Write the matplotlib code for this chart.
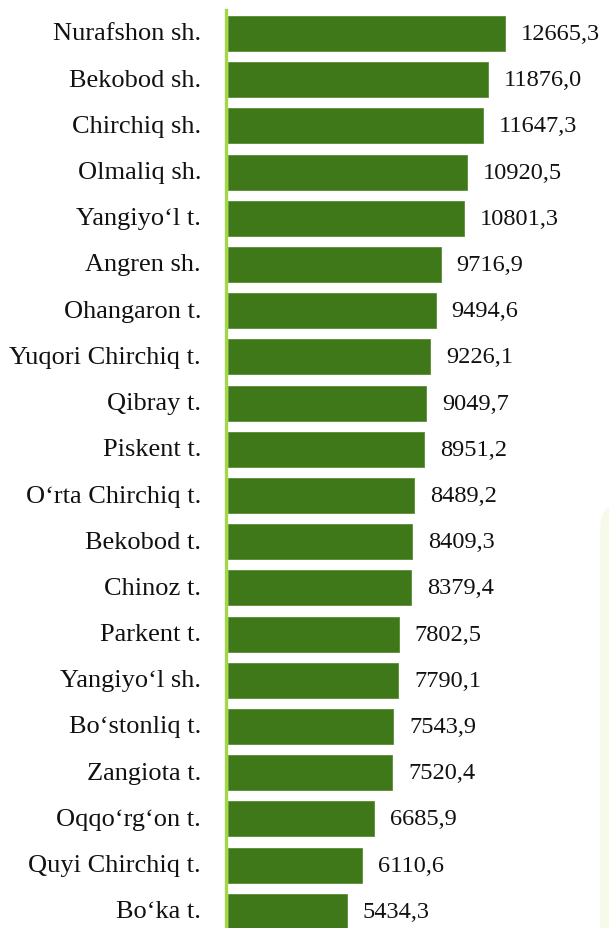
import matplotlib.pyplot as plt
from matplotlib.patches import FancyBboxPatch

districts = ["Nurafshon sh.", "Bekobod sh.", "Chirchiq sh.", "Olmaliq sh.", "Yangiyo‘l t.",
             "Angren sh.", "Ohangaron t.", "Yuqori Chirchiq t.", "Qibray t.", "Piskent t.",
             "O‘rta Chirchiq t.", "Bekobod t.", "Chinoz t.", "Parkent t.", "Yangiyo‘l sh.",
             "Bo‘stonliq t.", "Zangiota t.", "Oqqo‘rg‘on t.", "Quyi Chirchiq t.", "Bo‘ka t."]
values = [12665.3, 11876.0, 11647.3, 10920.5, 10801.3, 9716.9, 9494.6, 9226.1, 9049.7, 8951.2,
          8489.2, 8409.3, 8379.4, 7802.5, 7790.1, 7543.9, 7520.4, 6685.9, 6110.6, 5434.3]

plt.rcParams['font.family'] = ['Liberation Serif', 'DejaVu Serif']

W, H = 609, 929
fig = plt.figure(figsize=(W / 100, H / 100), dpi=100)

# faint decorative panel on the right
fig.patches.append(FancyBboxPatch((600 / W, -0.05), 0.1, 1 - 505 / H + 0.05,
                                  boxstyle="round,pad=0,rounding_size=0.03",
                                  transform=fig.transFigure, facecolor='#f6faeb',
                                  edgecolor='none', zorder=0))

x0 = 228
ax = fig.add_axes([x0 / W, 0, 1 - x0 / W, 1])
ax.patch.set_alpha(0)
px_per_unit = 277 / 12665.3
ax.set_xlim(0, (W - x0) / px_per_unit)
pitch = 46.2
first = 34.5
ax.set_ylim((H - first) / pitch, -first / pitch)

pos = list(range(len(values)))
ax.barh(pos, values, height=0.76, color='#3e7819', edgecolor='#5a8c35', linewidth=0.6)
for p, v, name in zip(pos, values, districts):
    ax.text(v + 16 / px_per_unit, p, f"{v:.1f}".replace('.', ','), va='center', ha='left',
            fontsize=17.6, color='#111111')
    ax.text(-27 / px_per_unit, p, name, va='center', ha='right', fontsize=19,
            color='#111111', clip_on=False)

ax.axvline(-1.8 / px_per_unit, ymin=0, ymax=1 - 11 / H, color='#a4d64a', lw=2.4,
           zorder=3, clip_on=False)

for s in ax.spines.values():
    s.set_visible(False)
ax.set_xticks([])
ax.set_yticks([])

fig.savefig('out.png', dpi=100)
